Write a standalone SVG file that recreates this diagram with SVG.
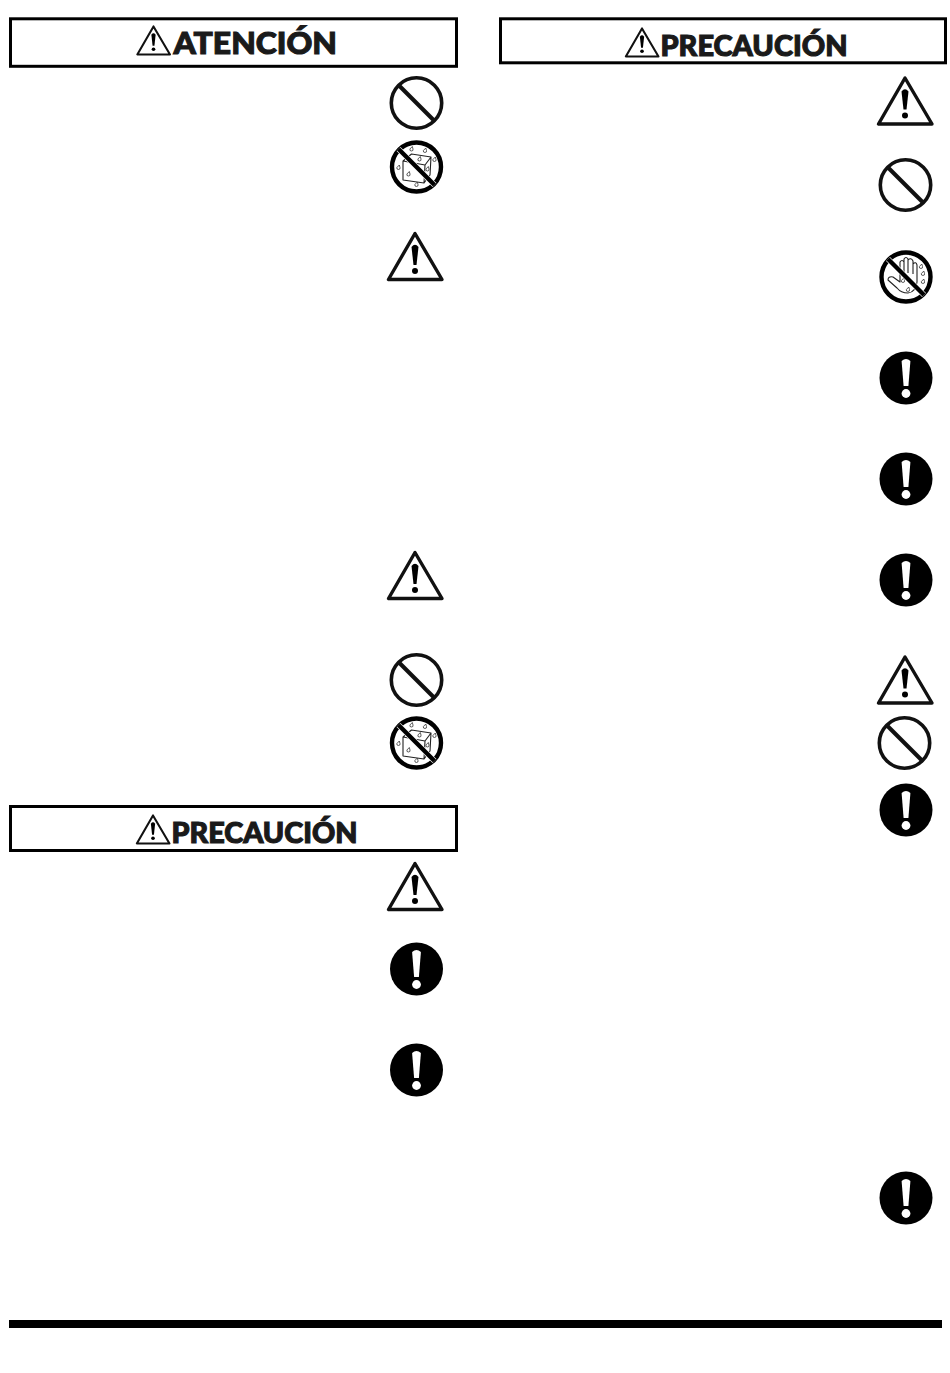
<svg xmlns="http://www.w3.org/2000/svg" xmlns:xlink="http://www.w3.org/1999/xlink" width="950" height="1373" viewBox="0 0 950 1373">
<style>
.box{fill:#fff;stroke:#000;stroke-width:3}
.head{font-family:"Lato","Liberation Sans",sans-serif;font-weight:900;fill:#1a1a1a;stroke:#1a1a1a;stroke-width:1.1}
.ring{fill:#fff;stroke:#111;stroke-width:3.6}
.thin{fill:none;stroke:#222;stroke-width:1.1;stroke-linejoin:round}
.drop{fill:#fff;stroke:#333;stroke-width:.8}
</style>
<defs>
<g id="tri">
<path d="M0 1.500 L-26.500 47.500 H27 Z" fill="#fff" stroke="#111" stroke-width="3.400" stroke-linejoin="round"/>
<path d="M-3.500 15 Q0 10.500 3.500 15 L1.500 33 H-1.500 Z" fill="#000"/>
<circle cx="0" cy="39" r="3" fill="#000"/>
</g>
<g id="no">
<circle r="25.200" class="ring"/>
<path d="M-17.500 -17.500 L17.500 17.500" stroke="#111" stroke-width="4"/>
</g>
<path id="d" d="M.8 -3 L1.500 -.5 A1.600 1.600 0 1 1 -1.600 -.5 Z" class="drop"/>
<g id="wet">
<circle r="24.500" fill="#fff" stroke="#000" stroke-width="4.400"/>
<path class="thin" d="M-13.500 -6 L8.500 -2 L7.500 16 L-13.500 13 Z M-13.500 -6 L-5 -13 L14.500 -10 L13.500 8 L7.500 16 M8.500 -2 L14.500 -10"/>
<use xlink:href="#d" x="-5" y="-17.500"/><use xlink:href="#d" x="8.500" y="-16"/><use xlink:href="#d" x="3" y="-7.500"/><use xlink:href="#d" x="18" y="-7"/><use xlink:href="#d" x="-18" y="1"/><use xlink:href="#d" x="-8" y="7.500"/><use xlink:href="#d" x="11" y="2.500"/><use xlink:href="#d" x="0" y="18"/>
<path d="M-18 -18 L18 18" stroke="#fff" stroke-width="5.500"/>
<path d="M-18 -18 L18 18" stroke="#000" stroke-width="4.400"/>
</g>
<g id="hand">
<circle r="24.500" fill="#fff" stroke="#000" stroke-width="4.400"/>
<path class="thin" d="M-6 -3 V-15 Q-4 -18 -2 -15 V-18 Q0 -21 2 -18 V-17 Q5 -20 7 -16 V-13 Q10 -16 11 -12 L11 5 Q10 15 2 16 Q-5 16 -9 11 L-18 3 Q-18 -1 -13 0 L-6 5 Z M-2 -15 V-4 M2 -18 V-4 M7 -16 V-3"/>
<use xlink:href="#d" x="15" y="-10"/><use xlink:href="#d" x="17" y="-3"/><use xlink:href="#d" x="17" y="5"/><use xlink:href="#d" x="-3" y="4"/><use xlink:href="#d" x="2" y="13"/>
<path d="M-18 -18 L18 18" stroke="#fff" stroke-width="5.500"/>
<path d="M-18 -18 L18 18" stroke="#000" stroke-width="4.400"/>
</g>
<g id="must">
<circle r="26.500" fill="#000"/>
<path d="M-4.400 -17 Q0 -21 4.400 -17 L2.400 8 H-2.400 Z" fill="#fff"/>
<circle cy="15.500" r="4.400" fill="#fff"/>
</g>
</defs>
<rect width="950" height="1373" fill="#fff"/>

<g id="header-atencion">
<rect class="box" x="10.500" y="18.800" width="446" height="47.500"/>
<use xlink:href="#tri" transform="translate(153.500 25.500) scale(.61)"/>
<text class="head" x="173.500" y="54" font-size="31" textLength="163.500" lengthAdjust="spacingAndGlyphs">ATENCIÓN</text>
</g>
<g id="header-precaucion-right">
<rect class="box" x="500.500" y="18.800" width="445" height="44"/>
<use xlink:href="#tri" transform="translate(642 27.500) scale(.61)"/>
<text class="head" x="660.500" y="55.500" font-size="28" textLength="187" lengthAdjust="spacingAndGlyphs">PRECAUCIÓN</text>
</g>
<g id="header-precaucion-left">
<rect class="box" x="10.500" y="806.500" width="446" height="44"/>
<use xlink:href="#tri" transform="translate(153 814.500) scale(.61)"/>
<text class="head" x="171.500" y="842.500" font-size="28" textLength="186" lengthAdjust="spacingAndGlyphs">PRECAUCIÓN</text>
</g>

<g id="icon-l1"><use xlink:href="#no" x="416.500" y="103"/></g>
<g id="icon-l2"><use xlink:href="#wet" x="416.500" y="167"/></g>
<g id="icon-l3"><use xlink:href="#tri" x="415" y="232"/></g>
<g id="icon-l4"><use xlink:href="#tri" x="415" y="551"/></g>
<g id="icon-l5"><use xlink:href="#no" x="416.500" y="680"/></g>
<g id="icon-l6"><use xlink:href="#wet" x="416.500" y="743"/></g>
<g id="icon-l7"><use xlink:href="#tri" x="415" y="862"/></g>
<g id="icon-l8"><use xlink:href="#must" x="416.500" y="969"/></g>
<g id="icon-l9"><use xlink:href="#must" x="416.500" y="1070"/></g>

<g id="icon-r1"><use xlink:href="#tri" x="905" y="76.500"/></g>
<g id="icon-r2"><use xlink:href="#no" x="905.500" y="185"/></g>
<g id="icon-r3"><use xlink:href="#hand" x="906" y="277"/></g>
<g id="icon-r4"><use xlink:href="#must" x="906" y="378"/></g>
<g id="icon-r5"><use xlink:href="#must" x="906" y="479"/></g>
<g id="icon-r6"><use xlink:href="#must" x="906" y="580"/></g>
<g id="icon-r7"><use xlink:href="#tri" x="905" y="655.500"/></g>
<g id="icon-r8"><use xlink:href="#no" x="904.500" y="743"/></g>
<g id="icon-r9"><use xlink:href="#must" x="906" y="810"/></g>
<g id="icon-r10"><use xlink:href="#must" x="906" y="1198"/></g>

<rect id="footer-bar" x="9" y="1320" width="933" height="8" fill="#000"/>
</svg>
